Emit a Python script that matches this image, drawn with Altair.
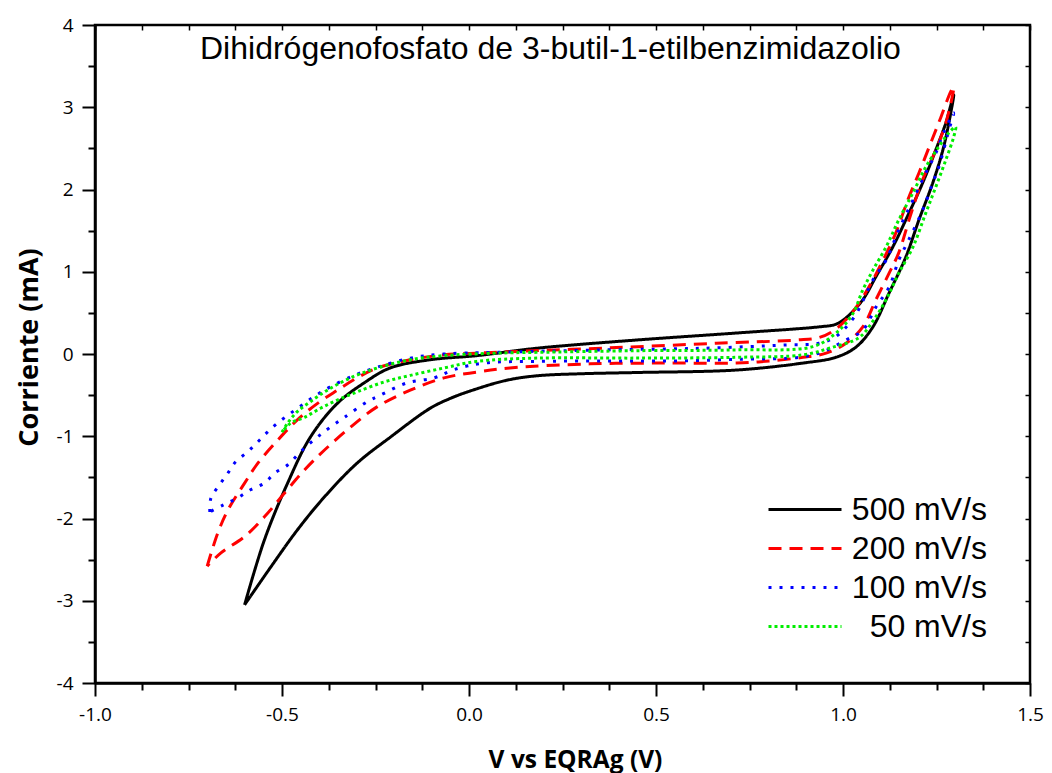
import altair as alt
import pandas as pd

series = ["500 mV/s", "200 mV/s", "100 mV/s", "50 mV/s"]
colors = ["#000000", "#ff0000", "#0000ff", "#00ee00"]
dashes = [[1, 0], [13, 8], [3, 8], [3, 3]]

x_500 = [-0.600, -0.547, -0.485, -0.424, -0.352, -0.280, -0.211, -0.104, 0.021, 0.181, 0.448, 0.715,
         0.936, 0.980, 1.008, 1.053, 1.088, 1.133, 1.176, 1.213, 1.248, 1.275, 1.296,
         1.283, 1.267, 1.240, 1.203, 1.168, 1.123, 1.080, 1.035, 0.981, 0.893, 0.715, 0.448,
         0.300, 0.181, 0.100, 0.003, -0.050, -0.104, -0.210, -0.300, -0.387, -0.459, -0.530, -0.600]
y_500 = [-3.05, -2.26, -1.57, -1.01, -0.60, -0.35, -0.17, -0.07, -0.02, 0.07, 0.17, 0.255,
         0.33, 0.36, 0.44, 0.66, 0.94, 1.30, 1.71, 2.08, 2.48, 2.81, 3.15,
         2.81, 2.48, 2.08, 1.63, 1.18, 0.74, 0.33, 0.085, -0.04, -0.11, -0.195, -0.225,
         -0.24, -0.265, -0.32, -0.45, -0.54, -0.66, -1.01, -1.33, -1.74, -2.14, -2.59, -3.05]

x_200 = [-0.700, -0.672, -0.645, -0.600, -0.565, -0.512, -0.459, -0.405, -0.352, -0.299, -0.245,
         -0.157, -0.067, 0.021, 0.093, 0.376, 0.661, 0.875, 0.936, 0.980, 1.029, 1.070, 1.107,
         1.141, 1.173, 1.203, 1.235, 1.261, 1.288, 1.296,
         1.275, 1.248, 1.213, 1.180, 1.149, 1.123, 1.088, 1.053, 1.008, 0.955, 0.893, 0.803,
         0.715, 0.536, 0.323, 0.109, 0.021, -0.067, -0.157, -0.245, -0.317, -0.387, -0.440,
         -0.493, -0.547, -0.600, -0.664, -0.700]
y_200 = [-2.58, -2.18, -1.90, -1.57, -1.33, -1.05, -0.80, -0.60, -0.44, -0.29, -0.17,
         -0.07, -0.01, 0.01, 0.025, 0.075, 0.13, 0.17, 0.20, 0.30, 0.53, 0.82, 1.14,
         1.47, 1.87, 2.20, 2.57, 2.87, 3.19, 3.25,
         2.81, 2.48, 2.12, 1.68, 1.23, 0.98, 0.66, 0.33, 0.13, 0.01, -0.04, -0.085,
         -0.11, -0.11, -0.12, -0.17, -0.22, -0.29, -0.44, -0.64, -0.89, -1.17, -1.41,
         -1.69, -1.98, -2.22, -2.42, -2.58]

x_100 = [-0.693, -0.690, -0.667, -0.645, -0.624, -0.592, -0.565, -0.539, -0.512, -0.477, -0.440,
         -0.405, -0.371, -0.307, -0.245, -0.157, -0.067, 0.067, 0.360, 0.627, 0.848, 0.936,
         0.980, 1.030, 1.080, 1.115, 1.149, 1.187, 1.221, 1.248, 1.269, 1.296,
         1.283, 1.256, 1.240, 1.213, 1.176, 1.149, 1.123, 1.088, 1.053, 1.008, 0.947, 0.893,
         0.715, 0.536, 0.360, 0.181, 0.040, -0.040, -0.093, -0.165, -0.237, -0.272, -0.333,
         -0.371, -0.397, -0.424, -0.453, -0.485, -0.520, -0.547, -0.584, -0.619, -0.659, -0.693]
y_100 = [-1.92, -1.75, -1.59, -1.45, -1.31, -1.19, -1.07, -0.95, -0.84, -0.72, -0.60,
         -0.49, -0.40, -0.26, -0.16, -0.05, 0.00, 0.02, 0.05, 0.07, 0.11, 0.13,
         0.21, 0.45, 0.90, 1.14, 1.51, 1.87, 2.20, 2.44, 2.69, 2.93,
         2.72, 2.27, 2.08, 1.75, 1.39, 1.14, 0.81, 0.57, 0.29, 0.17, 0.03, -0.035,
         -0.065, -0.085, -0.085, -0.09, -0.11, -0.19, -0.29, -0.35, -0.50, -0.58, -0.77,
         -0.89, -0.98, -1.08, -1.20, -1.35, -1.45, -1.57, -1.65, -1.75, -1.84, -1.92]

x_50 = [-0.500, -0.485, -0.459, -0.424, -0.379, -0.317, -0.245, -0.157, -0.067, 0.067, 0.181,
        0.448, 0.715, 0.920, 0.980, 1.025, 1.053, 1.080, 1.115, 1.149, 1.187, 1.221, 1.256,
        1.283, 1.301,
        1.296, 1.275, 1.248, 1.221, 1.187, 1.149, 1.115, 1.080, 1.043, 0.963, 0.893, 0.715,
        0.448, 0.181, 0.020, -0.067, -0.157, -0.227, -0.299, -0.352, -0.397, -0.440, -0.477, -0.500]
y_50 = [-0.95, -0.84, -0.70, -0.58, -0.44, -0.29, -0.17, -0.07, -0.02, 0.01, 0.02,
        0.04, 0.05, 0.09, 0.25, 0.48, 0.78, 1.02, 1.30, 1.63, 1.96, 2.27, 2.52,
        2.69, 2.76,
        2.64, 2.36, 2.03, 1.71, 1.30, 0.98, 0.66, 0.40, 0.20, 0.07, -0.01, -0.04,
        -0.05, -0.05, -0.09, -0.17, -0.26, -0.34, -0.46, -0.56, -0.66, -0.77, -0.84, -0.95]

x_ticks = [-1 + 0.125 * i for i in range(21)]
y_ticks = [-4 + 0.5 * i for i in range(17)]

rows = []
for name, xs, ys in zip(series, [x_500, x_200, x_100, x_50], [y_500, y_200, y_100, y_50]):
    assert len(xs) == len(ys)
    for i, (a, b) in enumerate(zip(xs, ys)):
        rows.append({"serie": name, "i": i, "V": a, "I": b})
df = pd.DataFrame(rows)

xscale = alt.Scale(domain=[-1, 1.5], nice=False, zero=False)
yscale = alt.Scale(domain=[-4, 4], nice=False, zero=False)

leg = alt.Legend(
    title=None, orient="none", legendX=672, legendY=465, symbolType="stroke",
    symbolSize=5329, symbolStrokeWidth=3, clipHeight=39, labelFont="Liberation Sans",
    labelFontSize=32, labelColor="black", labelAlign="right", labelOffset=144,
    padding=0, rowPadding=0, symbolOffset=0, labelLimit=400,
)

FONT = "Open Sans"

lines = alt.Chart(df).mark_line(strokeWidth=3, strokeJoin="round", interpolate="catmull-rom").encode(
    x=alt.X("V:Q", scale=xscale, axis=alt.Axis(
        title="V vs EQRAg (V)", values=x_ticks, grid=False, labelOverlap=False, labelFlush=False,
        labelExpr="datum.value % 0.5 === 0 ? replace(format(datum.value, '.1f'), '\u2212', '-') : ''",
        tickSize={"condition": {"test": "datum.value % 0.5 === 0", "value": 13}, "value": 7},
        labelPadding=9, labelFont=FONT, labelFontSize=19, labelColor="black",
        titleX=480, titleY=84, titleBaseline="alphabetic", titleAlign="center",
        titleFont=FONT, titleFontSize=24.5, titleFontWeight="bold", titleColor="black",
        domainColor="black", domainWidth=2.5, tickColor="black", tickWidth=2,
    )),
    y=alt.Y("I:Q", scale=yscale, axis=alt.Axis(
        title="Corriente (mA)", values=y_ticks, grid=False, labelOverlap=False, labelFlush=False,
        labelExpr="datum.value % 1 === 0 ? replace(format(datum.value, 'd'), '\u2212', '-') : ''",
        tickSize={"condition": {"test": "datum.value % 1 === 0", "value": 13}, "value": 7},
        labelPadding=9, labelFont=FONT, labelFontSize=19, labelColor="black",
        titleX=-58, titleY=322, titleAngle=270, titleBaseline="alphabetic", titleAlign="center",
        titleFont=FONT, titleFontSize=27, titleFontWeight="bold", titleColor="black",
        domainColor="black", domainWidth=2.5, tickColor="black", tickWidth=2,
    )),
    color=alt.Color("serie:N", scale=alt.Scale(domain=series, range=colors), legend=leg),
    strokeDash=alt.StrokeDash("serie:N", scale=alt.Scale(domain=series, range=dashes), legend=leg),
    order="i:Q",
)

frame = alt.Chart(df).mark_point(opacity=0).encode(
    x=alt.X("V:Q", scale=xscale, axis=alt.Axis(
        orient="top", title=None, labels=False, domain=False, grid=False, values=x_ticks,
        tickSize=5, offset=-5, tickWidth=1.5, tickColor="black")),
    y=alt.Y("I:Q", scale=yscale, axis=alt.Axis(
        orient="right", title=None, labels=False, domain=False, grid=False, values=y_ticks,
        tickSize=5, offset=-5, tickWidth=1.5, tickColor="black")),
)

chart = alt.layer(lines, frame).resolve_scale(x="independent", y="independent").properties(
    width=935, height=658,
    padding={"left": 87, "top": 17, "right": 14, "bottom": 95},
    autosize=alt.AutoSizeParams(type="none"),
    background="white",
    title=alt.TitleParams(
        text="Dihidrógenofosfato de 3-butil-1-etilbenzimidazolio", font="Liberation Sans",
        fontSize=32, fontWeight="normal", color="black", anchor="start", frame="group",
        dx=105, dy=75, offset=0, baseline="alphabetic",
    ),
).configure_view(stroke="black", strokeWidth=2.5)

chart.save("out.html", embed_options={"renderer": "svg", "actions": False})
